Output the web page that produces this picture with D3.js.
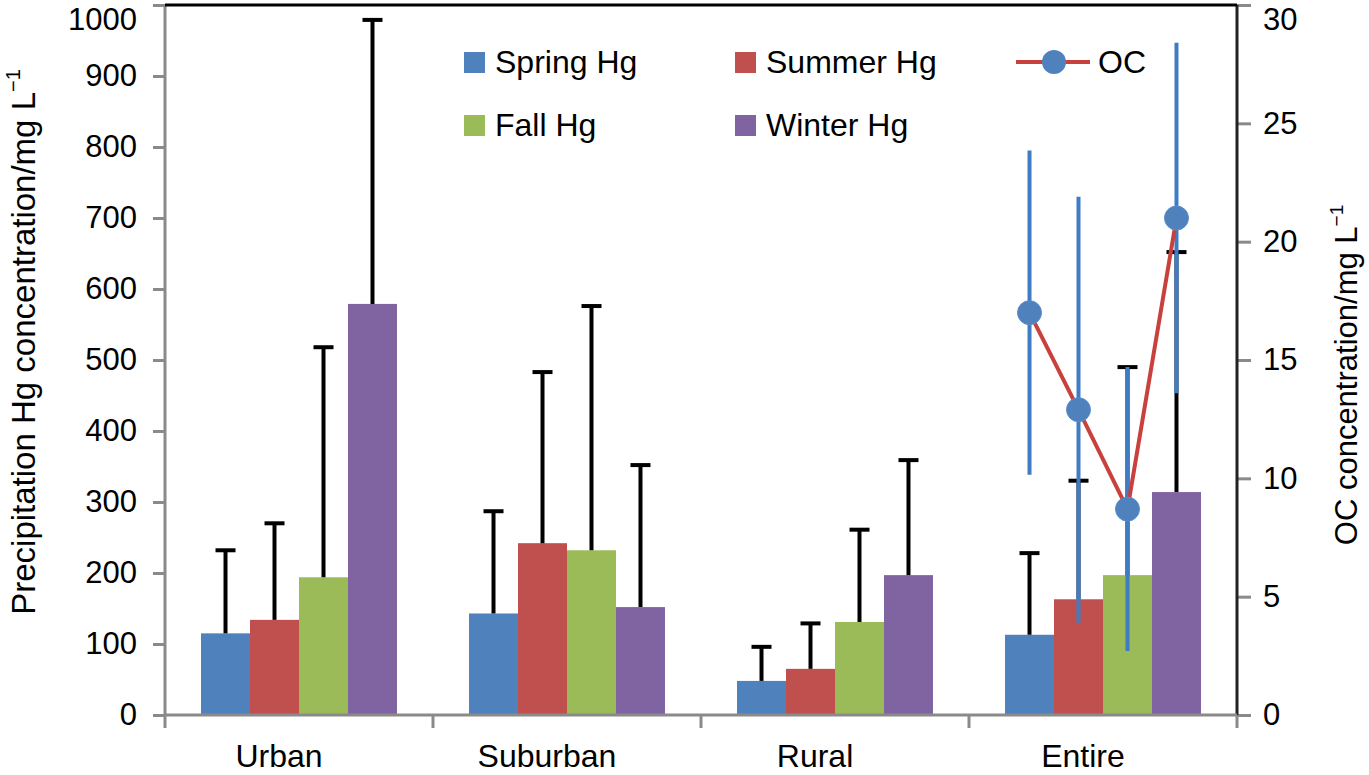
<!DOCTYPE html>
<html>
<head>
<meta charset="utf-8">
<script src="https://cdn.jsdelivr.net/npm/d3@7/dist/d3.min.js"></script>
<style>
html,body{margin:0;padding:0;background:#fff;}
svg{display:block;font-family:"Liberation Sans",Arial,Helvetica,sans-serif;}
</style>
</head>
<body>
<svg id="chart" width="1369" height="775"></svg>
<script>
// ---- data ----
const categories = ["Urban", "Suburban", "Rural", "Entire"];
const seasons = ["Spring Hg", "Summer Hg", "Fall Hg", "Winter Hg"];
const springHg = [115, 143, 48, 113];
const summerHg = [134, 242, 65, 163];
const fallHg   = [194, 232, 131, 197];
const winterHg = [579, 152, 197, 314];
const springSD = [117, 144, 48, 115];
const summerSD = [136, 241, 64, 167];
const fallSD   = [324, 344, 130, 293];
const winterSD = [400, 200, 162, 338];
const ocValues = [17.0, 12.9, 8.7, 21.0];   // Entire, by season
const ocSD     = [6.85, 9.0, 6.0, 7.4];
const leftTicks = [0, 100, 200, 300, 400, 500, 600, 700, 800, 900, 1000];
const rightTicks = [0, 5, 10, 15, 20, 25, 30];

const hgValues = [springHg, summerHg, fallHg, winterHg];
const hgSD = [springSD, summerSD, fallSD, winterSD];
const colors = ["#4f81bd", "#c0504d", "#9bbb59", "#8064a2"];

// ---- layout ----
const svg = d3.select("#chart");
const M = {left: 165, right: 1237, top: 5, bottom: 715};
const axisGray = "#8a8a8a";

const x0 = d3.scaleBand().domain(categories).range([M.left, M.right]).paddingInner(0).paddingOuter(0);
const x1 = d3.scaleBand().domain(seasons).range([0, x0.bandwidth()]).paddingInner(0).paddingOuter(0.735);
const yL = d3.scaleLinear().domain([0, 1000]).range([M.bottom, M.top]);
const yR = d3.scaleLinear().domain([0, 30]).range([M.bottom, M.top]);

// ---- bars ----
const barData = [];
categories.forEach((c, ci) => seasons.forEach((s, si) => {
  barData.push({c, s, si, v: hgValues[si][ci], sd: hgSD[si][ci]});
}));

svg.append("g").selectAll("rect").data(barData).join("rect")
  .attr("x", d => x0(d.c) + x1(d.s))
  .attr("width", x1.bandwidth())
  .attr("y", d => yL(d.v))
  .attr("height", d => yL(0) - yL(d.v))
  .attr("fill", d => colors[d.si]);

// Hg error bars (upper only)
const eb = svg.append("g").attr("stroke", "#000").attr("stroke-width", 4);
barData.forEach(d => {
  const cx = x0(d.c) + x1(d.s) + x1.bandwidth() / 2;
  eb.append("line").attr("x1", cx).attr("x2", cx).attr("y1", yL(d.v)).attr("y2", yL(d.v + d.sd));
  eb.append("line").attr("x1", cx - 10).attr("x2", cx + 10).attr("y1", yL(d.v + d.sd)).attr("y2", yL(d.v + d.sd));
});

// ---- axes ----
// left axis
const gL = svg.append("g").attr("transform", `translate(${M.left},0)`)
  .call(d3.axisLeft(yL).tickValues(leftTicks).tickSize(12).tickPadding(16).tickFormat(d3.format("d")));
gL.select(".domain").remove();
gL.selectAll(".tick line").attr("stroke", axisGray).attr("stroke-width", 3);
gL.selectAll(".tick text").attr("font-size", 31).attr("fill", "#000").attr("font-family", "Liberation Sans, Arial, sans-serif");
// keep the top label inside the picture
gL.selectAll(".tick").filter(d => d === 1000).select("text").attr("dy", "0.78em");
svg.append("line").attr("x1", M.left).attr("x2", M.left).attr("y1", M.top).attr("y2", M.bottom)
  .attr("stroke", axisGray).attr("stroke-width", 3);

// right axis
const gR = svg.append("g").attr("transform", `translate(${M.right},0)`)
  .call(d3.axisRight(yR).tickValues(rightTicks).tickSize(14).tickPadding(12).tickFormat(d3.format("d")));
gR.select(".domain").remove();
gR.selectAll(".tick line").attr("stroke", axisGray).attr("stroke-width", 3);
gR.selectAll(".tick text").attr("font-size", 31).attr("fill", "#000").attr("font-family", "Liberation Sans, Arial, sans-serif");
gR.selectAll(".tick").filter(d => d === 30).select("text").attr("dy", "0.78em");
svg.append("line").attr("x1", M.right).attr("x2", M.right).attr("y1", M.top).attr("y2", M.bottom)
  .attr("stroke", "#222").attr("stroke-width", 3);

// top border
svg.append("line").attr("x1", M.left).attr("x2", M.right).attr("y1", M.top).attr("y2", M.top)
  .attr("stroke", "#000").attr("stroke-width", 3);

// bottom axis
svg.append("line").attr("x1", M.left).attr("x2", M.right).attr("y1", M.bottom).attr("y2", M.bottom)
  .attr("stroke", axisGray).attr("stroke-width", 3);
const bounds = categories.map(c => x0(c)).concat([M.right]);
svg.append("g").selectAll("line").data(bounds).join("line")
  .attr("x1", d => d).attr("x2", d => d).attr("y1", M.bottom).attr("y2", M.bottom + 13)
  .attr("stroke", axisGray).attr("stroke-width", 3);
svg.append("g").selectAll("text").data(categories).join("text")
  .attr("x", d => x0(d) + x0.bandwidth() / 2 - 20)
  .attr("y", 767)
  .attr("text-anchor", "middle")
  .attr("font-size", 32)
  .text(d => d);

// axis titles
const tL = svg.append("text")
  .attr("transform", `translate(35, 342) rotate(-90)`)
  .attr("text-anchor", "middle").attr("font-size", 33);
tL.append("tspan").text("Precipitation Hg concentration/mg L");
tL.append("tspan").attr("font-size", 20).attr("dy", -15).text("\u22121");

const tR = svg.append("text")
  .attr("transform", `translate(1357, 375) rotate(-90)`)
  .attr("text-anchor", "middle").attr("font-size", 31);
tR.append("tspan").text("OC concentration/mg L");
tR.append("tspan").attr("font-size", 19).attr("dy", -14).text("\u22121");

// ---- OC series (Entire group) ----
const ocX = seasons.map(s => x0("Entire") + x1(s) + x1.bandwidth() / 2);
const oc = svg.append("g");
oc.selectAll("line.err").data(ocValues).join("line").attr("class", "err")
  .attr("x1", (d, i) => ocX[i]).attr("x2", (d, i) => ocX[i])
  .attr("y1", (d, i) => yR(d - ocSD[i])).attr("y2", (d, i) => yR(d + ocSD[i]))
  .attr("stroke", "#3f7cc4").attr("stroke-width", 4);
oc.append("path")
  .attr("d", d3.line().x((d, i) => ocX[i]).y(d => yR(d))(ocValues))
  .attr("fill", "none").attr("stroke", "#c9413d").attr("stroke-width", 4);
oc.selectAll("circle").data(ocValues).join("circle")
  .attr("cx", (d, i) => ocX[i]).attr("cy", d => yR(d)).attr("r", 12)
  .attr("fill", "#4f81bd").attr("stroke", "#5b8ccc").attr("stroke-width", 1);

// ---- legend ----
const leg = svg.append("g");
const legItems = [
  {name: seasons[0], color: colors[0], x: 464, y: 62},
  {name: seasons[1], color: colors[1], x: 735, y: 62},
  {name: seasons[2], color: colors[2], x: 464, y: 125},
  {name: seasons[3], color: colors[3], x: 735, y: 125}
];
legItems.forEach(it => {
  leg.append("rect").attr("x", it.x).attr("y", it.y - 10).attr("width", 21).attr("height", 21).attr("fill", it.color);
  leg.append("text").attr("x", it.x + 31).attr("y", it.y + 11).attr("font-size", 32).text(it.name);
});
leg.append("line").attr("x1", 1016).attr("x2", 1090).attr("y1", 62).attr("y2", 62)
  .attr("stroke", "#c9413d").attr("stroke-width", 4);
leg.append("circle").attr("cx", 1054).attr("cy", 62).attr("r", 12).attr("fill", "#4f81bd");
leg.append("text").attr("x", 1098).attr("y", 73).attr("font-size", 32).text("OC");
</script>
</body>
</html>
